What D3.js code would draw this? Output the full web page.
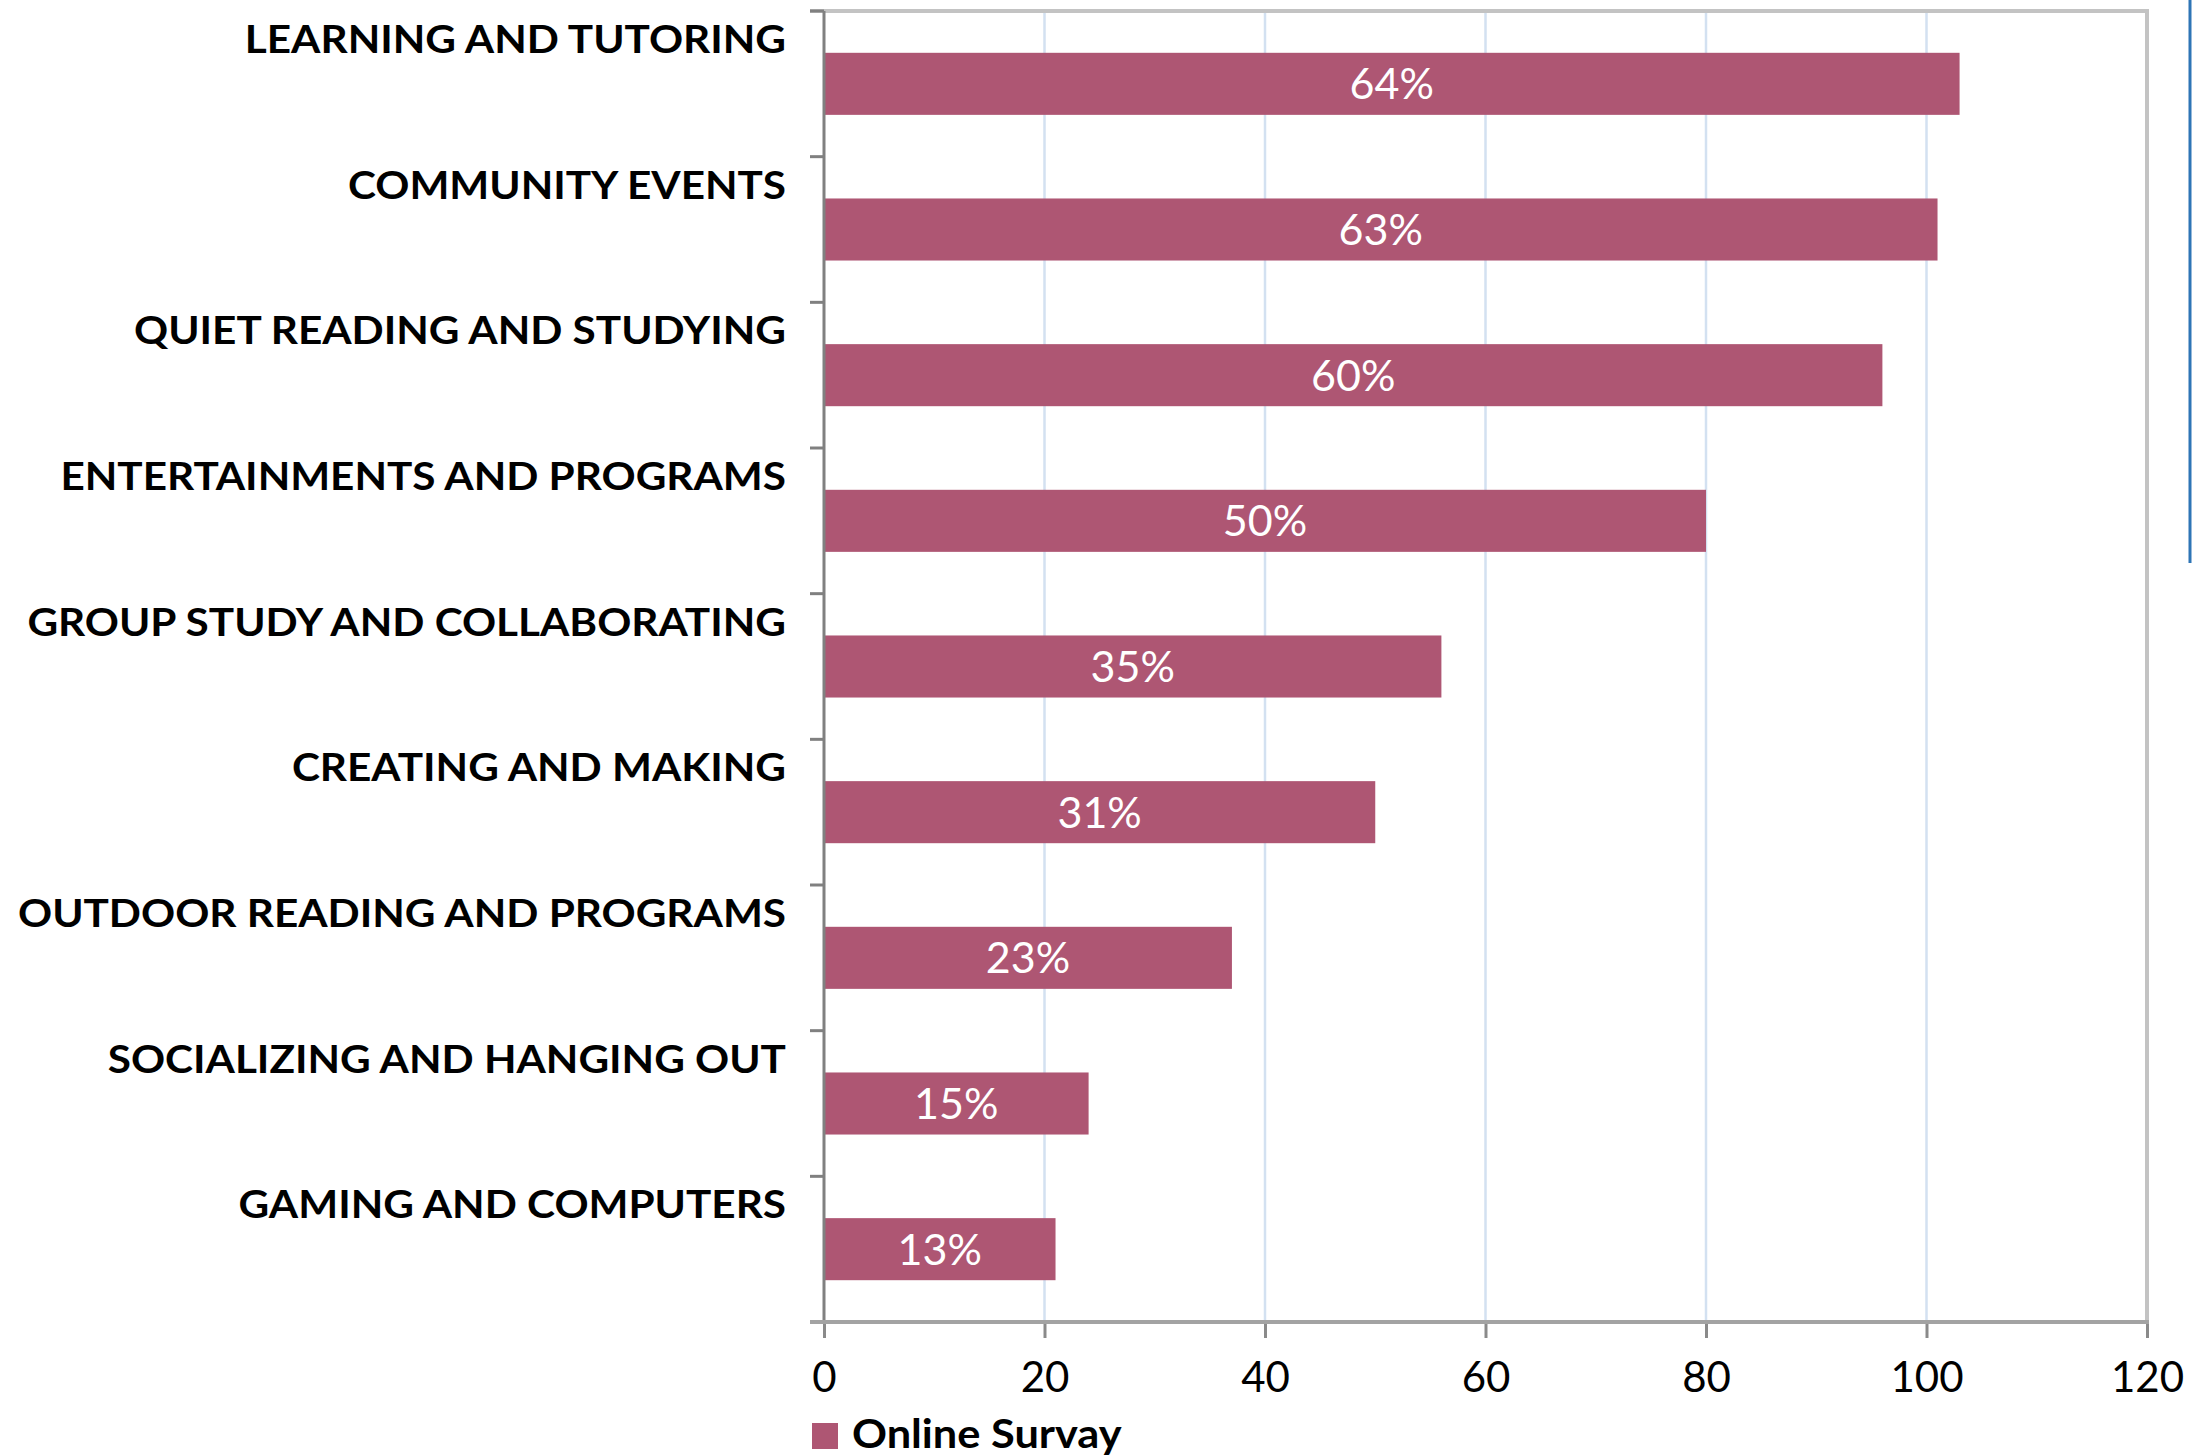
<!DOCTYPE html>
<html>
<head>
<meta charset="utf-8">
<script src="https://cdn.jsdelivr.net/npm/d3@7"></script>
<style>
  html, body { margin: 0; padding: 0; background: #ffffff; }
  svg { display: block; }
</style>
</head>
<body>
<svg id="chart" width="2192" height="1456"></svg>
<script>
// Survey responses: preferred library space uses (count of respondents)
const categories = [
  "LEARNING AND TUTORING",
  "COMMUNITY EVENTS",
  "QUIET READING AND STUDYING",
  "ENTERTAINMENTS AND PROGRAMS",
  "GROUP STUDY AND COLLABORATING",
  "CREATING AND MAKING",
  "OUTDOOR READING AND PROGRAMS",
  "SOCIALIZING AND HANGING OUT",
  "GAMING AND COMPUTERS"
];
const responses = [103, 101, 96, 80, 56, 50, 37, 24, 21];
const totalRespondents = 161;
const xTicks = [0, 20, 40, 60, 80, 100, 120];
const seriesName = "Online Survay";

const barColor = "#ae5673";
const fontFamily = "Lato, 'Open Sans', sans-serif";

const svg = d3.select("#chart");

const plot = { left: 824, right: 2147, top: 11, bottom: 1322 };

const x = d3.scaleLinear().domain([0, 120]).range([plot.left, plot.right]);
const y = d3.scaleBand().domain(categories).range([plot.top, plot.bottom]).padding(0);
const barH = y.bandwidth() * 0.426;

// vertical gridlines
svg.append("g")
  .selectAll("line")
  .data(xTicks.filter(t => t > 0 && t < 120))
  .join("line")
  .attr("x1", d => x(d)).attr("x2", d => x(d))
  .attr("y1", plot.top).attr("y2", plot.bottom)
  .attr("stroke", "#d3e1f1")
  .attr("stroke-width", 2.5);

// top and right frame
svg.append("line")
  .attr("x1", 810).attr("x2", plot.right + 2)
  .attr("y1", plot.top).attr("y2", plot.top)
  .attr("stroke", "#c3c3c3").attr("stroke-width", 4);
svg.append("line")
  .attr("x1", plot.right).attr("x2", plot.right)
  .attr("y1", plot.top).attr("y2", plot.bottom)
  .attr("stroke", "#c3c3c3").attr("stroke-width", 4);

// bars
svg.append("g")
  .selectAll("rect")
  .data(categories)
  .join("rect")
  .attr("x", x(0))
  .attr("y", d => y(d) + (y.bandwidth() - barH) / 2)
  .attr("width", (d, i) => x(responses[i]) - x(0))
  .attr("height", barH)
  .attr("fill", barColor);

// percentage labels inside bars
svg.append("g")
  .selectAll("text")
  .data(categories)
  .join("text")
  .attr("x", (d, i) => (x(0) + x(responses[i])) / 2)
  .attr("y", d => y(d) + y.bandwidth() / 2)
  .attr("dy", "0.36em")
  .attr("text-anchor", "middle")
  .attr("fill", "#ffffff")
  .attr("font-family", fontFamily)
  .attr("font-size", 43)
  .text((d, i) => Math.round(responses[i] / totalRespondents * 100) + "%");

// left axis line with band boundary ticks
svg.append("line")
  .attr("x1", plot.left).attr("x2", plot.left)
  .attr("y1", plot.top).attr("y2", plot.bottom)
  .attr("stroke", "#808080").attr("stroke-width", 3);
svg.append("g")
  .selectAll("line")
  .data(d3.range(categories.length + 1))
  .join("line")
  .attr("x1", 810).attr("x2", plot.left)
  .attr("y1", i => plot.top + i * y.step())
  .attr("y2", i => plot.top + i * y.step())
  .attr("stroke", "#808080").attr("stroke-width", 3);

// category labels, right-aligned above each bar
const catLabels = svg.append("g")
  .selectAll("text")
  .data(categories)
  .join("text")
  .attr("x", 786)
  .attr("y", d => y(d) + 42)
  .attr("text-anchor", "end")
  .attr("fill", "#000000")
  .attr("font-family", fontFamily)
  .attr("font-weight", 700)
  .attr("font-size", 39)
  .text(d => d);

// widen labels to the geometric face proportions used in the layout
const widest = d3.max(catLabels.nodes(), n => n.getComputedTextLength());
const stretch = 768 / widest;
catLabels.each(function () {
  const w = this.getComputedTextLength();
  d3.select(this).attr("textLength", w * stretch).attr("lengthAdjust", "spacingAndGlyphs");
});

// bottom axis
const xAxis = d3.axisBottom(x).tickValues(xTicks).tickSize(16).tickPadding(24);
const gx = svg.append("g")
  .attr("transform", `translate(0,${plot.bottom})`)
  .call(xAxis);
gx.select(".domain").remove();
gx.selectAll(".tick line").attr("stroke", "#8a8a8a").attr("stroke-width", 3);
gx.selectAll(".tick text")
  .attr("fill", "#000000")
  .attr("font-family", fontFamily)
  .attr("font-size", 42);
svg.append("line")
  .attr("x1", 810).attr("x2", plot.right + 2)
  .attr("y1", plot.bottom).attr("y2", plot.bottom)
  .attr("stroke", "#a3a3a3").attr("stroke-width", 4);

// legend
const legend = svg.append("g");
legend.append("rect")
  .attr("x", 812).attr("y", 1423)
  .attr("width", 26).attr("height", 26)
  .attr("fill", barColor);
const legendText = legend.append("text")
  .attr("x", 852).attr("y", 1448)
  .attr("fill", "#000000")
  .attr("font-family", fontFamily)
  .attr("font-weight", 700)
  .attr("font-size", 40)
  .text(seriesName);
legendText.attr("textLength", legendText.node().getComputedTextLength() * stretch)
  .attr("lengthAdjust", "spacingAndGlyphs");

// adjacent panel edge at the far right
svg.append("line")
  .attr("x1", 2190).attr("x2", 2190)
  .attr("y1", 0).attr("y2", 563)
  .attr("stroke", "#2e75b6").attr("stroke-width", 3);
</script>
</body>
</html>
